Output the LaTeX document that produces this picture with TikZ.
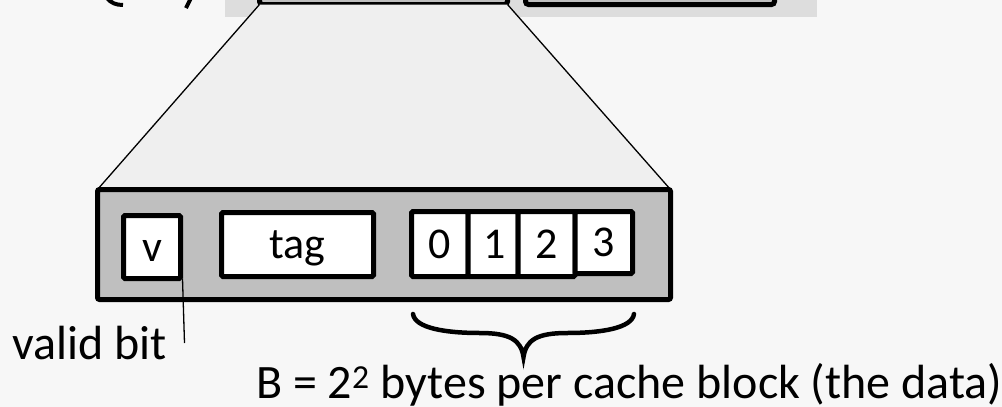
\documentclass[tikz,border=0pt]{standalone}
\usepackage{fontspec}
\setmainfont{Carlito}
\begin{document}
\begin{tikzpicture}[x=1pt,y=-1pt,
  box/.style={draw=black,line width=5pt,fill=white,rounded corners=1.5pt,inner sep=0pt,outer sep=0pt},
  lbl/.style={font=\fontsize{44}{48}\selectfont,inner sep=0pt,anchor=base},
  captext/.style={font=\fontsize{48}{52}\selectfont,inner sep=0pt,anchor=base west},
  thin/.style={draw=black,line width=1.3pt}]
\useasboundingbox (0,0) rectangle (1002,407);
\fill[fill={rgb,255:red,247;green,247;blue,247}] (0,0) rectangle (1002,407);
% top strip
\fill[fill={rgb,255:red,221;green,221;blue,221}] (225,-5) rectangle (817,17);
% cut-off fragments at top left
\draw[line width=4pt] (107,-2) .. controls (111,3) and (116,5) .. (123,5);
\draw[line width=4pt] (191,-2) -- (186,8);
% top boxes (mostly cut off)
\node[box,fill={rgb,255:red,191;green,191;blue,191},minimum width=248pt,minimum height=100pt,rounded corners=3pt] (set0) at (383.5,-45.5) {};
\node[box,fill={rgb,255:red,191;green,191;blue,191},minimum width=249pt,minimum height=100pt,rounded corners=3pt] (set1) at (650,-45.5) {};
% big cache block
\coordinate (bl) at (97.5,189.5);
\coordinate (br) at (670.5,189.5);
\fill[fill={rgb,255:red,239;green,239;blue,239}] (set0.south west) -- (set0.south east) -- (br) -- (bl) -- cycle;
\draw[thin] (set0.south west) -- (bl);
\draw[thin] (set0.south east) -- (br);
\node[box,fill={rgb,255:red,191;green,191;blue,191},minimum width=573pt,minimum height=110pt,rounded corners=2pt] (line) at (384,244.5) {};
% fields
\node[box,minimum width=57pt,minimum height=63pt] (v) at (152,247) {};
\node[lbl] (vt) at (152,261) {v};
\node[box,minimum width=152pt,minimum height=64pt] (tag) at (297.5,244.5) {};
\node[lbl] (tagt) at (297.5,258) {tag};
\node[box,minimum width=56.5pt,minimum height=65pt] (b0) at (439.75,244) {};
\node[box,minimum width=50pt,minimum height=65pt] (b1) at (493,244) {};
\node[box,minimum width=57pt,minimum height=65pt] (b2) at (546.5,244) {};
\node[box,minimum width=57.5pt,minimum height=62pt] (b3) at (603.75,242.5) {};
\node[lbl] at (439.5,258) {0};
\node[lbl] at (495,258) {1};
\node[lbl] at (546.5,258) {2};
\node[lbl] at (603.5,256) {3};
% valid bit
\node[captext] (valid) at (12,359) {valid bit};
\coordinate (vend) at (184.5,343);
\draw[thin] (v.south east) ++(2,0) coordinate (vstart) (vstart) -- (vend);
% brace
\draw[line width=4.5pt,line cap=round] (413,314) .. controls (415,328) and (445,333) .. (480,333) .. controls (510,333) and (521,340) .. (523.5,357) .. controls (526,340) and (537,333) .. (567,333) .. controls (602,333) and (632,328) .. (634,314);
\node[captext] (btext) at (256,398) {B = 2\textsuperscript{2} bytes per cache block (the data)};
\end{tikzpicture}
\end{document}
